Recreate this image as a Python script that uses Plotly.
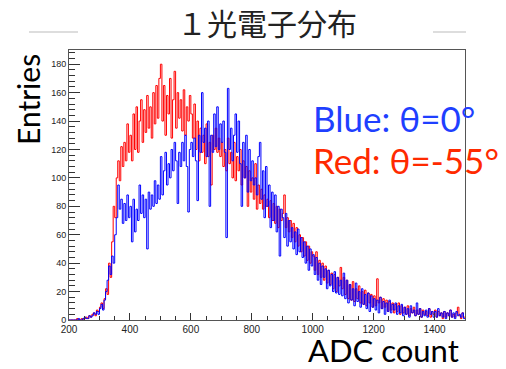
import plotly.graph_objects as go

# Histogram bin left edges (ADC counts), 5-count bins from 200 to 1500
bin_start = 200
bin_width = 5

red_counts = [
    0, 0, 0, 0, 0, 1, 0, 0, 1, 0, 1, 2, 1, 3, 2, 4, 5, 3, 7, 6,                          # 200
    9, 12, 8, 15, 22, 18, 40, 30, 55, 80, 72, 100, 112, 98, 122, 108, 125, 112, 138, 118,  # 300
    130, 112, 145, 120, 150, 118, 140, 155, 125, 148, 132, 158, 135, 150, 128, 160, 138, 165, 142, 170,  # 400
    180, 140, 165, 130, 158, 145, 170, 128, 155, 175, 135, 160, 142, 155, 133, 162, 130, 150, 140, 158,  # 500
    145, 128, 152, 120, 140, 112, 135, 118, 130, 110, 138, 115, 125, 95, 130, 120, 135, 118, 128, 115,   # 600
    125, 108, 120, 105, 128, 110, 118, 100, 125, 98, 115, 105, 120, 95, 112, 100, 108, 80, 105, 90,      # 700
    100, 85, 110, 78, 95, 82, 92, 78, 88, 80, 85, 72, 84, 70, 82, 68, 80, 65, 78, 70,                    # 800
    75, 88, 65, 72, 62, 70, 58, 68, 55, 65, 52, 60, 48, 58, 45, 55, 42, 52, 40, 48,                      # 900
    45, 35, 48, 32, 42, 30, 40, 28, 38, 26, 35, 25, 33, 22, 32, 20, 30, 24, 37, 22,                      # 1000
    30, 18, 28, 15, 25, 14, 27, 13, 22, 15, 24, 12, 20, 11, 21, 10, 19, 12, 18, 9,                       # 1100
    17, 10, 29, 12, 16, 8, 15, 9, 14, 6, 13, 7, 12, 5, 11, 6, 12, 4, 10, 5,                              # 1200
    9, 4, 10, 3, 8, 5, 9, 3, 7, 4, 8, 2, 7, 4, 6, 3, 8, 2, 6, 4,                                         # 1300
    7, 2, 6, 3, 5, 1, 6, 2, 5, 3, 7, 2, 4, 2, 5, 9, 3, 1, 5, 2,                                          # 1400
]

blue_counts = [
    0, 0, 0, 0, 0, 0, 1, 0, 0, 1, 2, 1, 1, 3, 2, 3, 5, 4, 6, 4,                          # 200
    8, 11, 7, 14, 20, 28, 38, 32, 45, 40, 60, 72, 95, 78, 85, 68, 82, 70, 88, 72,        # 300
    80, 55, 85, 62, 78, 70, 95, 75, 88, 72, 85, 50, 90, 78, 88, 80, 98, 82, 95, 85,      # 400
    115, 88, 105, 118, 95, 110, 100, 120, 105, 125, 112, 82, 118, 108, 125, 112, 130, 108, 76, 120,  # 500
    125, 115, 128, 112, 84, 130, 118, 160, 125, 135, 115, 140, 80, 130, 118, 145, 122, 150, 120, 138,  # 600
    125, 140, 118, 58, 163, 120, 135, 112, 130, 145, 118, 140, 110, 80, 125, 100, 130, 90, 120, 98,    # 700
    112, 95, 100, 88, 115, 125, 85, 105, 72, 108, 80, 95, 65, 90, 70, 88, 62, 80, 45, 78,              # 800
    72, 58, 75, 52, 70, 55, 65, 50, 62, 46, 64, 48, 58, 44, 55, 40, 52, 35, 50, 38,                    # 900
    46, 32, 44, 28, 40, 25, 38, 30, 36, 22, 35, 24, 32, 20, 34, 19, 30, 18, 28, 17,                    # 1000
    33, 15, 28, 12, 25, 14, 22, 10, 26, 13, 20, 9, 22, 11, 18, 8, 19, 6, 17, 9,                        # 1100
    15, 7, 14, 5, 16, 8, 13, 4, 12, 6, 14, 5, 11, 7, 12, 4, 10, 5, 11, 3,                              # 1200
    9, 4, 8, 2, 10, 5, 7, 3, 12, 4, 8, 2, 6, 3, 7, 2, 8, 4, 6, 2,                                      # 1300
    6, 2, 8, 3, 5, 2, 6, 1, 5, 3, 7, 2, 5, 1, 6, 3, 4, 2, 5, 1,                                        # 1400
]

x_tick_vals = [200, 400, 600, 800, 1000, 1200, 1400]
y_tick_vals = [0, 20, 40, 60, 80, 100, 120, 140, 160, 180]

title_text = "１光電子分布"
x_label = "ADC count"
y_label = "Entries"
blue_label = "Blue: θ=0°"
red_label = "Red: θ=-55°"


def step_xy(counts):
    xs = [bin_start + i * bin_width for i in range(len(counts))]
    xs.append(bin_start + len(counts) * bin_width)
    ys = list(counts) + [counts[-1]]
    return xs, ys


fig = go.Figure()
rx, ry = step_xy(red_counts)
bx, by = step_xy(blue_counts)
fig.add_trace(go.Scatter(x=rx, y=ry, mode="lines", line=dict(color="#ff0000", width=1, shape="hv"),
                         hoverinfo="skip", showlegend=False))
fig.add_trace(go.Scatter(x=bx, y=by, mode="lines", line=dict(color="#0000ff", width=1, shape="hv"),
                         hoverinfo="skip", showlegend=False))

W, H = 506, 369
L, R, T, B = 69, 41, 50, 49
pw, ph = W - L - R, H - T - B


def px(x):
    return (x - L) / pw


def py(y):
    return (H - B - y) / ph


axis_common = dict(showline=True, linecolor="#555555", linewidth=1, mirror=True,
                   showgrid=False, zeroline=False, ticks="inside", tickcolor="#333333")

fig.update_layout(
    width=W, height=H,
    margin=dict(l=L, r=R, t=T, b=B),
    paper_bgcolor="white", plot_bgcolor="white",
    xaxis=dict(range=[200, 1500], tickvals=x_tick_vals, ticklen=7, tickwidth=1,
               minor=dict(dtick=50, ticklen=4, ticks="inside", tickcolor="#333333"),
               tickfont=dict(family="Liberation Sans, Arial, sans-serif", size=10, color="#222222"),
               **axis_common),
    yaxis=dict(range=[0, 190], tickvals=y_tick_vals, ticklen=11, tickwidth=1,
               minor=dict(dtick=4, ticklen=6, ticks="inside", tickcolor="#333333"),
               tickfont=dict(family="Liberation Sans, Arial, sans-serif", size=9, color="#222222"),
               **axis_common),
    showlegend=False,
)

big_font = "Lato, 'Open Sans', sans-serif"
annotations = [
    dict(text=title_text, x=px(267), y=py(22), xanchor="center", yanchor="middle",
         font=dict(family="Noto Sans CJK JP", size=30, color="#222222")),
    dict(text=y_label, x=px(28), y=py(100), xanchor="center", yanchor="middle", textangle=-90,
         font=dict(family=big_font, size=30, color="#000000")),
    dict(text=x_label, x=px(461), y=py(371), xanchor="right", yanchor="bottom",
         font=dict(family=big_font, size=31, color="#000000")),
    dict(text=blue_label, x=px(311), y=py(118), xanchor="left", yanchor="middle",
         font=dict(family=big_font, size=35, color="#1f3fff")),
    dict(text=red_label, x=px(311), y=py(160), xanchor="left", yanchor="middle",
         font=dict(family=big_font, size=35, color="#ff2a00")),
]
for a in annotations:
    a.update(xref="paper", yref="paper", showarrow=False)
fig.update_layout(annotations=annotations)

fig.add_shape(type="line", xref="paper", yref="paper", x0=px(29), x1=px(78), y0=py(32), y1=py(32),
              line=dict(color="#bbbbbb", width=1))
fig.add_shape(type="line", xref="paper", yref="paper", x0=px(433), x1=px(466), y0=py(32), y1=py(32),
              line=dict(color="#bbbbbb", width=1))

fig.write_html("out.html", config={"displayModeBar": False},
               post_script="document.body.style.margin='0';document.body.style.overflow='hidden';")
